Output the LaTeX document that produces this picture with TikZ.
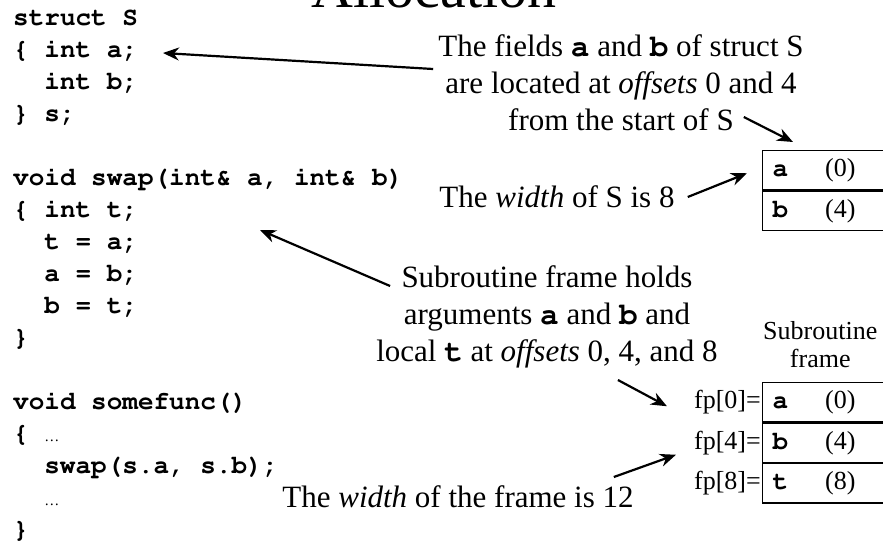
\documentclass[tikz,border=0pt]{standalone}
\usepackage{fontspec}
\setmainfont{Liberation Serif}
\setmonofont{Liberation Mono}
\usetikzlibrary{arrows.meta,positioning}

\newcommand\crfont{\fontencoding{T1}\fontfamily{pcr}\bfseries\selectfont}
\newcommand\cw[1]{{\crfont #1}}
\newcommand\ind{\hspace*{1.2em}}
\newcommand\dd{{\fontencoding{TU}\rmfamily\mdseries\fontsize{15}{15}\selectfont …}}

\begin{document}
\begin{tikzpicture}[x=1pt,y=-1pt,
  txt/.style={font=\fontsize{31}{37}\selectfont,align=center,inner sep=0pt},
  code/.style={font=\fontsize{26}{32}\crfont,align=left,inner sep=0pt},
  cell/.style={draw,line width=1.2pt,minimum height=39.3pt,text width=130pt,
               inner xsep=10pt,inner ysep=0pt,align=left,font=\fontsize{26}{28}\selectfont},
  lbl/.style={font=\fontsize{26}{28}\selectfont,inner sep=0pt},
  a/.style={-{Stealth[length=16pt,width=13pt]},line width=2.2pt}
]
\useasboundingbox (0,0) rectangle (883,541);
\clip (0,0) rectangle (883,541);

\node[font=\fontsize{58}{60}\selectfont,inner sep=0pt,anchor=base] (title) at (434,7) {Allocation};

\node[code,anchor=base west] (src) at (13,537) {struct S\\
\{ int a;\\
\ind int b;\\
\} s;\\[32pt]
void swap(int\& a, int\& b)\\
\{ int t;\\
\ind t = a;\\
\ind a = b;\\
\ind b = t;\\
\}\\[32pt]
void somefunc()\\
\{ \dd\\
\ind swap(s.a, s.b);\\
\ind \dd\\
\}};

\node[txt,anchor=base] (fld) at (621,130) {The fields \cw{a} and \cw{b} of struct S\\
are located at \emph{offsets} 0 and 4\\
from the start of S};
\node[txt,anchor=base] (wds) at (557,207) {The \emph{width} of S is 8};
\node[txt,anchor=base] (sub) at (547,361) {Subroutine frame holds\\
arguments \cw{a} and \cw{b} and\\
local \cw{t} at \emph{offsets} 0, 4, and 8};
\node[txt,anchor=base] (wdf) at (458,507) {The \emph{width} of the frame is 12};

\node[cell,anchor=north west] (sa) at (762,150) {\cw{a}\hspace{37pt}(0)};
\node[cell,below=0pt of sa] (sb) {\cw{b}\hspace{37pt}(4)};

\node[cell,anchor=north west] (fa) at (762,382) {\cw{a}\hspace{37pt}(0)};
\node[cell,below=0pt of fa] (fb) {\cw{b}\hspace{37pt}(4)};
\node[cell,below=0pt of fb] (ft) {\cw{t}\hspace{37pt}(8)};
\node[lbl,left=1pt of fa] (p0) {fp[0]=};
\node[lbl,left=1pt of fb] (p4) {fp[4]=};
\node[lbl,left=1pt of ft] (p8) {fp[8]=};
\node[lbl,align=center,above right=14pt and 1pt of fa.north west] (frm) {Subroutine\\frame};

\coordinate (inta) at (163,53);
\coordinate (swp) at (260,230);
\draw[a] ([shift={(-5,-61)}]fld.base west) -- (inta);
\draw[a] ([shift={(-60,-13)}]fld.base east) -- ([shift={(31,-8)}]sa.north west);
\draw[a] ([shift={(13,-10)}]wds.base east) -- ([shift={(-15,3)}]sa.west);
\draw[a] ([shift={(14,-75)}]sub.base west) -- (swp);
\draw[a] ([shift={(-100,19)}]sub.base east) -- ([shift={(-27,4)}]p0.west);
\draw[a] ([shift={(-20,-30)}]wdf.base east) -- ([shift={(-18,12)}]p4.west);
\end{tikzpicture}
\end{document}
